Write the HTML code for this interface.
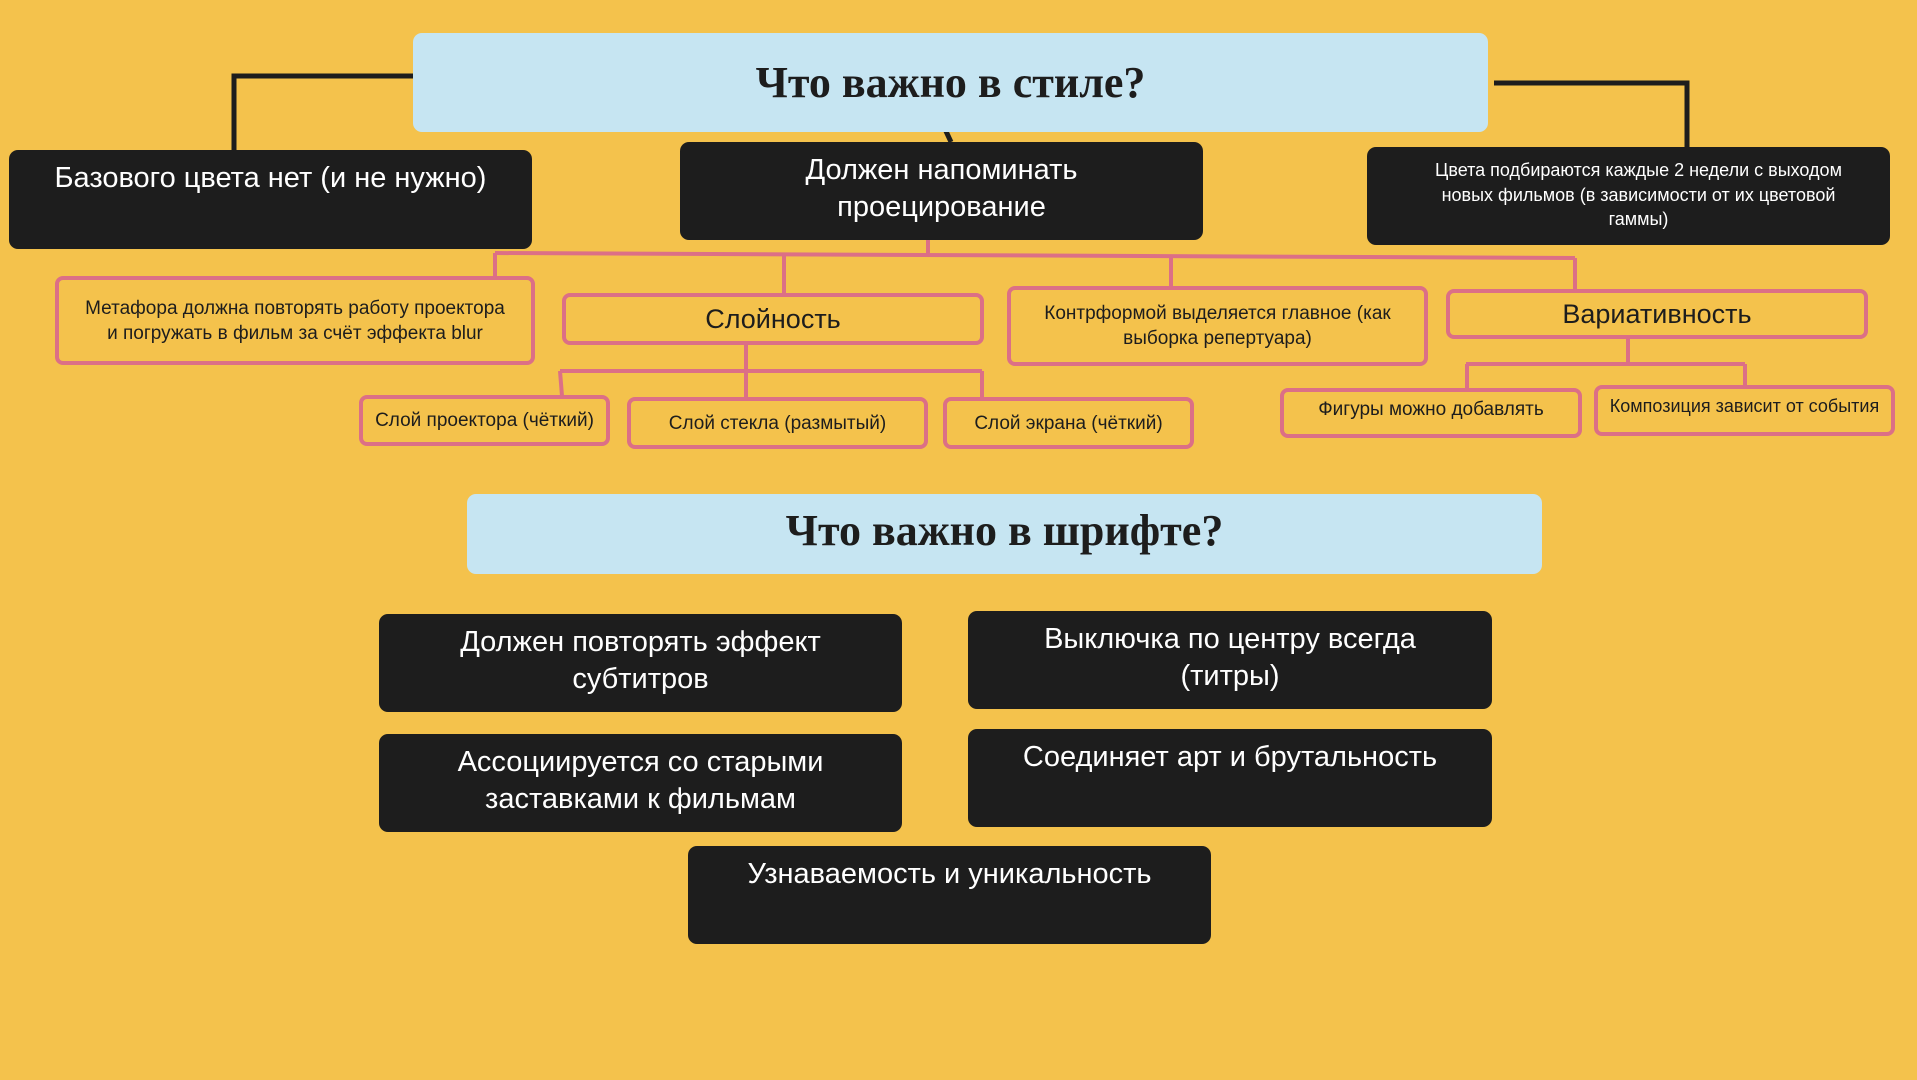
<!DOCTYPE html>
<html><head><meta charset="utf-8"><style>
body{margin:0;width:1917px;height:1080px;background:#f4c24c;position:relative;overflow:hidden;font-family:"Liberation Sans","DejaVu Sans",sans-serif}
.b{position:absolute;background:#1d1d1d;color:#fff;border-radius:9px;text-align:center;box-sizing:border-box;padding-top:10px;font-size:29px;line-height:37px}
.t{position:absolute;background:#c6e5f2;border-radius:9px;display:flex;align-items:center;justify-content:center;font-family:"Liberation Serif",serif;font-weight:bold;font-size:44px;color:#1d1d1d}
.p{position:absolute;border:4px solid #dc6f86;border-radius:8px;box-sizing:border-box;display:flex;align-items:center;justify-content:center;text-align:center;color:#1d1d1d;font-size:19px;line-height:25px}
svg{position:absolute;left:0;top:0}
</style></head><body>
<svg width="1917" height="1080">
<g stroke="#1d1d1d" stroke-width="5" fill="none">
<polyline points="413,76 234,76 234,150"/>
<polyline points="1494,83 1687,83 1687,147"/>
<line x1="944" y1="127" x2="951" y2="142"/>
</g>
<g stroke="#dc6f86" stroke-width="4" fill="none">
<line x1="495" y1="253" x2="1575" y2="258"/>
<line x1="928" y1="240" x2="928" y2="255"/>
<line x1="495" y1="253" x2="495" y2="278"/>
<line x1="784" y1="254" x2="784" y2="294"/>
<line x1="1171" y1="256" x2="1171" y2="287"/>
<line x1="1575" y1="258" x2="1575" y2="290"/>
<line x1="746" y1="345" x2="746" y2="398"/>
<line x1="560" y1="371" x2="982" y2="371"/>
<line x1="560" y1="371" x2="562" y2="396"/>
<line x1="982" y1="371" x2="982" y2="398"/>
<line x1="1628" y1="339" x2="1628" y2="364"/>
<line x1="1466" y1="364" x2="1745" y2="364"/>
<line x1="1467" y1="364" x2="1467" y2="390"/>
<line x1="1745" y1="364" x2="1745" y2="387"/>
</g>
</svg>
<div class="t" style="left:413px;top:33px;width:1075px;height:99px">Что важно в стиле?</div>
<div class="b" style="left:9px;top:150px;width:523px;height:99px">Базового цвета нет (и не нужно)</div>
<div class="b" style="left:680px;top:142px;width:523px;height:98px">Должен напоминать<br>проецирование</div>
<div class="b" style="left:1367px;top:147px;width:523px;height:98px;font-size:18px;line-height:24.5px;padding:11px 0 0 20px">Цвета подбираются каждые 2 недели с выходом<br>новых фильмов (в зависимости от их цветовой<br>гаммы)</div>
<div class="p" style="left:55px;top:276px;width:480px;height:89px">Метафора должна повторять работу проектора<br>и погружать в фильм за счёт эффекта blur</div>
<div class="p" style="left:562px;top:293px;width:422px;height:52px;font-size:27px">Слойность</div>
<div class="p" style="left:1007px;top:286px;width:421px;height:80px">Контрформой выделяется главное (как<br>выборка репертуара)</div>
<div class="p" style="left:1446px;top:289px;width:422px;height:50px;font-size:27px">Вариативность</div>
<div class="p" style="left:359px;top:395px;width:251px;height:51px">Слой проектора (чёткий)</div>
<div class="p" style="left:627px;top:397px;width:301px;height:52px">Слой стекла (размытый)</div>
<div class="p" style="left:943px;top:397px;width:251px;height:52px">Слой экрана (чёткий)</div>
<div class="p" style="left:1280px;top:388px;width:302px;height:50px;padding-bottom:8px">Фигуры можно добавлять</div>
<div class="p" style="left:1594px;top:385px;width:301px;height:51px;padding-bottom:8px;font-size:18px">Композиция зависит от события</div>
<div class="t" style="left:467px;top:494px;width:1075px;height:80px;padding-bottom:8px;box-sizing:border-box">Что важно в шрифте?</div>
<div class="b" style="left:379px;top:614px;width:523px;height:98px">Должен повторять эффект<br>субтитров</div>
<div class="b" style="left:968px;top:611px;width:524px;height:98px">Выключка по центру всегда<br>(титры)</div>
<div class="b" style="left:379px;top:734px;width:523px;height:98px">Ассоциируется со старыми<br>заставками к фильмам</div>
<div class="b" style="left:968px;top:729px;width:524px;height:98px">Соединяет арт и брутальность</div>
<div class="b" style="left:688px;top:846px;width:523px;height:98px">Узнаваемость и уникальность</div>
</body></html>
